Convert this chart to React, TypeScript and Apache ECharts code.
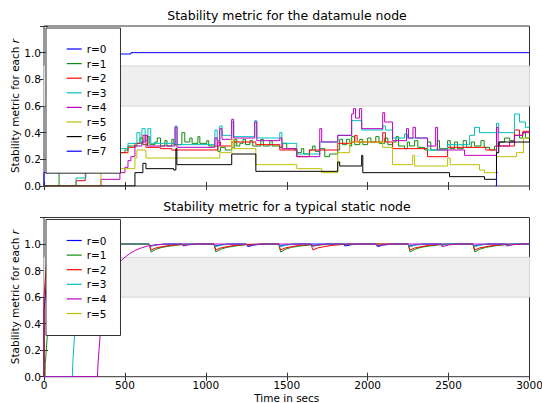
import React, { useEffect, useRef } from "react";
import * as echarts from "echarts";

const FONT = "DejaVu Sans";
const TOP_TITLE = "Stability metric for the datamule node";
const BOTTOM_TITLE = "Stability metric for a typical static node";
const Y_NAME = "Stability metric for each {i|r}";
const X_NAME = "Time in secs";
const X_MIN = 0;
const X_MAX = 3000;
const X_STEP = 500;
const Y_MIN = 0;
const Y_MAX = 1.2;
const Y_STEP = 0.2;
const Y_LABEL_MAX = 1.0;
const BAND = [0.6, 0.9];

const TOP_NAMES = ["r=0", "r=1", "r=2", "r=3", "r=4", "r=5", "r=6", "r=7"];
const BOTTOM_NAMES = ["r=0", "r=1", "r=2", "r=3", "r=4", "r=5"];
const COLORS = ["#0000ff", "#108a10", "#ff0000", "#00bfbf", "#bf00bf", "#bfbf00", "#000000", "#0000ff"];

// ---- datamule node (step data: [time, value]) ----
const topR0 = [[0, 0], [0, 0.1], [300, 0.95], [440, 0.99], [537, 1.0], [3000, 1.0]];
const topR1 = [[0, 0], [93, 0.15], [300, 0.2], [469, 0.25], [500, 0.27], [519, 0.3], [574, 0.32], [593, 0.36], [611, 0.31], [642, 0.37], [654, 0.31], [685, 0.33], [700, 0.36], [720, 0.3], [747, 0.34], [760, 0.3], [790, 0.35], [802, 0.31], [852, 0.4], [870, 0.33], [901, 0.36], [915, 0.32], [951, 0.37], [963, 0.32], [1006, 0.34], [1018, 0.3], [1074, 0.26], [1090, 0.29], [1120, 0.27], [1160, 0.29], [1179, 0.35], [1191, 0.3], [1210, 0.32], [1230, 0.35], [1245, 0.31], [1272, 0.34], [1290, 0.3], [1340, 0.35], [1355, 0.3], [1395, 0.34], [1410, 0.3], [1457, 0.29], [1475, 0.32], [1500, 0.28], [1549, 0.27], [1562, 0.25], [1590, 0.28], [1605, 0.24], [1640, 0.27], [1660, 0.3], [1675, 0.26], [1704, 0.28], [1735, 0.22], [1765, 0.24], [1815, 0.27], [1827, 0.35], [1845, 0.31], [1870, 0.35], [1889, 0.3], [1901, 0.37], [1920, 0.31], [1951, 0.35], [1970, 0.31], [2000, 0.36], [2020, 0.33], [2050, 0.37], [2070, 0.32], [2105, 0.36], [2125, 0.31], [2154, 0.33], [2175, 0.37], [2190, 0.3], [2228, 0.28], [2245, 0.33], [2259, 0.3], [2290, 0.34], [2310, 0.29], [2352, 0.27], [2370, 0.33], [2390, 0.27], [2430, 0.34], [2444, 0.28], [2494, 0.34], [2510, 0.28], [2537, 0.33], [2555, 0.28], [2590, 0.34], [2610, 0.29], [2640, 0.33], [2660, 0.3], [2700, 0.34], [2720, 0.29], [2753, 0.27], [2784, 0.3], [2815, 0.33], [2846, 0.36], [2877, 0.34], [2907, 0.38], [2938, 0.36], [2957, 0.4], [2975, 0.36], [3000, 0.36]];
const topR2 = [[0, 0], [198, 0.04], [255, 0.12], [469, 0.25], [519, 0.29], [562, 0.32], [611, 0.38], [630, 0.29], [720, 0.28], [790, 0.27], [1074, 0.33], [1090, 0.3], [1160, 0.33], [1309, 0.31], [1457, 0.27], [1562, 0.22], [1640, 0.27], [1815, 0.32], [1901, 0.33], [1920, 0.38], [1935, 0.33], [2093, 0.4], [2110, 0.33], [2154, 0.28], [2370, 0.22], [2494, 0.29], [2730, 0.27], [2796, 0.3], [2880, 0.3], [2907, 0.42], [2938, 0.38], [2960, 0.41], [3000, 0.41]];
const topR3 = [[0, 0], [198, 0.06], [259, 0.15], [469, 0.28], [519, 0.32], [574, 0.4], [593, 0.32], [605, 0.43], [625, 0.34], [642, 0.43], [660, 0.32], [800, 0.32], [810, 0.45], [822, 0.31], [1056, 0.42], [1070, 0.34], [1086, 0.45], [1100, 0.38], [1160, 0.48], [1172, 0.37], [1302, 0.49], [1315, 0.36], [1457, 0.4], [1470, 0.32], [1562, 0.24], [1704, 0.33], [1815, 0.38], [1901, 0.49], [1963, 0.42], [2093, 0.45], [2110, 0.42], [2154, 0.36], [2228, 0.39], [2245, 0.36], [2370, 0.27], [2494, 0.31], [2630, 0.38], [2660, 0.44], [2691, 0.4], [2796, 0.47], [2810, 0.4], [2907, 0.54], [2938, 0.48], [2975, 0.44], [3000, 0.44]];
const topR4 = [[0, 0], [352, 0.05], [469, 0.1], [500, 0.14], [519, 0.19], [537, 0.22], [562, 0.3], [605, 0.33], [625, 0.38], [640, 0.3], [800, 0.3], [810, 0.44], [822, 0.29], [1056, 0.36], [1070, 0.3], [1086, 0.43], [1100, 0.35], [1160, 0.5], [1172, 0.36], [1302, 0.48], [1315, 0.34], [1457, 0.36], [1470, 0.28], [1562, 0.22], [1704, 0.43], [1716, 0.33], [1815, 0.38], [1901, 0.54], [1912, 0.58], [1925, 0.51], [1950, 0.58], [1963, 0.43], [2093, 0.55], [2105, 0.48], [2154, 0.34], [2240, 0.43], [2252, 0.36], [2280, 0.44], [2295, 0.36], [2370, 0.3], [2420, 0.44], [2432, 0.27], [2599, 0.23], [2796, 0.44], [2806, 0.3], [2877, 0.33], [2907, 0.38], [2957, 0.4], [3000, 0.4]];
const topR5 = [[0, 0], [352, 0.1], [469, 0.13], [562, 0.21], [574, 0.27], [630, 0.21], [1086, 0.25], [1160, 0.35], [1172, 0.28], [1309, 0.16], [1562, 0.13], [1716, 0.1], [1815, 0.25], [1889, 0.33], [2093, 0.29], [2154, 0.16], [2278, 0.23], [2290, 0.15], [2494, 0.21], [2510, 0.16], [2691, 0.12], [2722, 0.1], [2796, 0.22], [2920, 0.25], [2963, 0.36], [3000, 0.36]];
const topR6 = [[0, 0], [562, 0.1], [611, 0.17], [630, 0.13], [802, 0.12], [815, 0.28], [821, 0.16], [1160, 0.24], [1309, 0.11], [1815, 0.18], [1827, 0.15], [1963, 0.23], [1970, 0.1], [2506, 0.07], [2722, 0.05], [2796, 0.25], [2810, 0.33], [3000, 0.36]];
const topR7 = [[2790, 0], [2796, 0.1], [2803, 0.1]];

// ---- static node ----
const botR0 = [[0, 0], [0, 0.5], [25, 0.85], [40, 0.96], [80, 0.99], [150, 1.0], [650, 1.0], [660, 0.985], [700, 0.995], [760, 1.0], [1050, 1.0], [1060, 0.985], [1100, 0.995], [1150, 1.0], [1250, 1.0], [1260, 0.98], [1300, 0.993], [1350, 1.0], [1450, 1.0], [1460, 0.985], [1500, 0.995], [1550, 1.0], [1850, 1.0], [1860, 0.985], [1900, 0.995], [1950, 1.0], [2050, 1.0], [2060, 0.98], [2100, 0.993], [2150, 1.0], [2250, 1.0], [2260, 0.985], [2300, 0.995], [2350, 1.0], [2650, 1.0], [2660, 0.985], [2700, 0.995], [2750, 1.0], [3000, 1.0]];
const botR1 = [[0, 0], [6, 0], [8, 0.1], [14, 0.2], [20, 0.3], [30, 0.45], [45, 0.6], [70, 0.8], [120, 0.93], [200, 0.97], [300, 0.99], [400, 1.0], [650, 1.0], [662, 0.94], [690, 0.96], [730, 0.975], [780, 0.985], [850, 0.995], [950, 1.0], [1050, 1.0], [1062, 0.94], [1090, 0.96], [1130, 0.975], [1180, 0.985], [1250, 0.995], [1350, 1.0], [1450, 1.0], [1462, 0.94], [1490, 0.96], [1530, 0.975], [1580, 0.985], [1650, 0.993], [1662, 0.985], [1720, 0.995], [1800, 1.0], [2250, 1.0], [2262, 0.94], [2290, 0.96], [2330, 0.975], [2380, 0.985], [2450, 0.995], [2550, 1.0], [2650, 1.0], [2662, 0.94], [2690, 0.96], [2730, 0.975], [2780, 0.985], [2850, 0.995], [2950, 1.0], [3000, 1.0]];
const botR2 = [[0, 0], [0, 0.6], [15, 0.85], [40, 0.95], [100, 0.98], [200, 0.99], [400, 1.0], [650, 1.0], [662, 0.955], [690, 0.97], [730, 0.98], [780, 0.99], [850, 0.997], [950, 1.0], [1050, 1.0], [1062, 0.955], [1090, 0.97], [1130, 0.98], [1180, 0.99], [1250, 0.997], [1350, 1.0], [1450, 1.0], [1462, 0.955], [1490, 0.97], [1530, 0.98], [1580, 0.99], [1650, 0.997], [1662, 0.955], [1690, 0.97], [1730, 0.98], [1780, 0.99], [1850, 0.997], [1950, 1.0], [2250, 1.0], [2262, 0.955], [2290, 0.97], [2330, 0.98], [2380, 0.99], [2450, 0.997], [2550, 1.0], [2650, 1.0], [2662, 0.955], [2690, 0.97], [2730, 0.98], [2780, 0.99], [2850, 0.997], [2950, 1.0], [3000, 1.0]];
const botR3 = [[0, 0], [175, 0], [178, 0.1], [183, 0.2], [188, 0.3], [200, 0.5], [230, 0.8], [300, 0.95], [400, 0.99], [480, 1.0], [650, 1.0], [660, 0.985], [700, 0.995], [750, 1.0], [850, 1.0], [860, 0.99], [900, 1.0], [1050, 1.0], [1060, 0.98], [1100, 0.993], [1150, 1.0], [1250, 1.0], [1260, 0.985], [1300, 0.995], [1350, 1.0], [1450, 1.0], [1460, 0.98], [1500, 0.993], [1550, 1.0], [1650, 1.0], [1660, 0.985], [1700, 0.995], [1750, 1.0], [2050, 1.0], [2060, 0.985], [2100, 0.995], [2150, 1.0], [2250, 1.0], [2260, 0.98], [2300, 0.993], [2350, 1.0], [2450, 1.0], [2460, 0.99], [2500, 1.0], [2650, 1.0], [2660, 0.98], [2700, 0.993], [2750, 1.0], [2850, 1.0], [2860, 0.99], [2900, 1.0], [3000, 1.0]];
const botR4 = [[0, 0], [330, 0], [334, 0.1], [340, 0.2], [346, 0.3], [360, 0.5], [400, 0.7], [440, 0.82], [480, 0.88], [520, 0.92], [560, 0.95], [600, 0.97], [640, 0.985], [700, 0.995], [760, 1.0], [850, 1.0], [860, 0.985], [900, 0.995], [950, 1.0], [1250, 1.0], [1260, 0.985], [1300, 0.995], [1350, 1.0], [1650, 1.0], [1660, 0.985], [1700, 0.995], [1750, 1.0], [2050, 1.0], [2060, 0.985], [2100, 0.995], [2150, 1.0], [2450, 1.0], [2460, 0.98], [2500, 0.993], [2550, 1.0], [2850, 1.0], [2860, 0.985], [2900, 0.995], [2950, 1.0], [3000, 1.0]];
const botR5: number[][] = [];

const TOP_DATA = [topR0, topR1, topR2, topR3, topR4, topR5, topR6, topR7];
const BOTTOM_DATA = [botR0, botR1, botR2, botR3, botR4, botR5];

const GRIDS = [
  { left: 44, top: 26, width: 485.5, height: 160 },
  { left: 44, top: 217.5, width: 485.5, height: 159.2 },
];

function xAxes(gridIndex: number, withLabels: boolean) {
  const base = {
    gridIndex,
    type: "value",
    min: X_MIN,
    max: X_MAX,
    interval: X_STEP,
    axisLine: { show: false },
    axisTick: { inside: true, length: 4, lineStyle: { color: "#333", width: 1 } },
    splitLine: { show: false },
  };
  return [
    {
      ...base,
      position: "bottom",
      axisLabel: withLabels
        ? { show: true, fontFamily: FONT, fontSize: 10.5, color: "#000", margin: 3, formatter: (v: number) => String(v) }
        : { show: false },
      ...(withLabels
        ? {
            name: X_NAME,
            nameLocation: "middle",
            nameGap: 16,
            nameMoveOverlap: false,
            nameTextStyle: { fontFamily: FONT, fontSize: 10.5, color: "#000" },
          }
        : {}),
    },
    { ...base, position: "top", axisLabel: { show: false } },
  ];
}

function yAxes(gridIndex: number) {
  const base = {
    gridIndex,
    type: "value",
    min: Y_MIN,
    max: Y_MAX,
    interval: Y_STEP,
    axisLine: { show: false },
    axisTick: { inside: true, length: 4, lineStyle: { color: "#333", width: 1 } },
    splitLine: { show: false },
  };
  return [
    {
      ...base,
      position: "left",
      axisLabel: {
        show: true,
        fontFamily: FONT,
        fontSize: 10.5,
        color: "#000",
        margin: 3,
        formatter: (v: number) => (v > Y_LABEL_MAX + 0.01 ? "" : v.toFixed(1)),
      },
      name: Y_NAME,
      nameLocation: "middle",
      nameGap: 24,
      nameMoveOverlap: false,
      nameRotate: 90,
      nameTextStyle: {
        fontFamily: FONT,
        fontSize: 10.5,
        color: "#000",
        rich: { i: { fontFamily: FONT, fontSize: 10.5, fontStyle: "italic", color: "#000" } },
      },
    },
    { ...base, position: "right", axisLabel: { show: false } },
  ];
}

function makeSeries(names: string[], data: number[][][], gi: number, step: boolean) {
  return names.map((name, i) => ({
    type: "line",
    name,
    xAxisIndex: gi * 2,
    yAxisIndex: gi * 2,
    data: data[i],
    ...(step ? { step: "end" } : {}),
    showSymbol: false,
    symbol: "none",
    lineStyle: { width: 1, color: COLORS[i] },
    itemStyle: { color: COLORS[i] },
    z: 2 + i * 0.01,
    ...(i === 0
      ? {
          markArea: {
            silent: true,
            z: 1,
            itemStyle: { color: "#efefef", borderColor: "#d4d4d4", borderWidth: 1 },
            data: [[{ yAxis: BAND[0] }, { yAxis: BAND[1] }]],
          },
        }
      : {}),
  }));
}

function legend(names: string[], top: number) {
  return {
    data: names,
    orient: "vertical",
    left: 46,
    top,
    selectedMode: false,
    icon: "rect",
    itemWidth: 15,
    itemHeight: 1.2,
    itemGap: 2.6,
    backgroundColor: "#fff",
    borderColor: "#333",
    borderWidth: 1,
    padding: [15, 14, 16, 20.7],
    textStyle: { fontFamily: FONT, fontSize: 10.5, color: "#000", lineHeight: 12 },
    z: 10,
  };
}

export default function App() {
  const ref = useRef<HTMLDivElement>(null);
  useEffect(() => {
    if (!ref.current) return;
    const chart = echarts.init(ref.current, null, { renderer: "svg" });
    const option: any = {
      animation: false,
      backgroundColor: "#fff",
      grid: GRIDS.map((g) => ({
        ...g,
        show: true,
        containLabel: false,
        outerBoundsMode: "none",
        borderColor: "#333",
        borderWidth: 1,
        backgroundColor: "transparent",
      })),
      xAxis: [...xAxes(0, false), ...xAxes(1, true)],
      yAxis: [...yAxes(0), ...yAxes(1)],
      legend: [legend(TOP_NAMES, 28), legend(BOTTOM_NAMES, 219.5)],
      series: [
        ...makeSeries(TOP_NAMES, TOP_DATA, 0, true),
        ...makeSeries(BOTTOM_NAMES, BOTTOM_DATA, 1, false),
      ],
      graphic: [
        {
          type: "text",
          x: 287,
          y: 15,
          style: { text: TOP_TITLE, fontFamily: FONT, fontSize: 12.5, fill: "#000", align: "center", verticalAlign: "middle", textAlign: "center", textVerticalAlign: "middle" },
        },
        {
          type: "text",
          x: 287,
          y: 206.5,
          style: { text: BOTTOM_TITLE, fontFamily: FONT, fontSize: 12.5, fill: "#000", align: "center", verticalAlign: "middle", textAlign: "center", textVerticalAlign: "middle" },
        },
      ],
    };
    chart.setOption(option);
    return () => chart.dispose();
  }, []);
  return <div ref={ref} style={{ position: "fixed", left: 0, top: 0, width: 542, height: 403 }} />;
}
